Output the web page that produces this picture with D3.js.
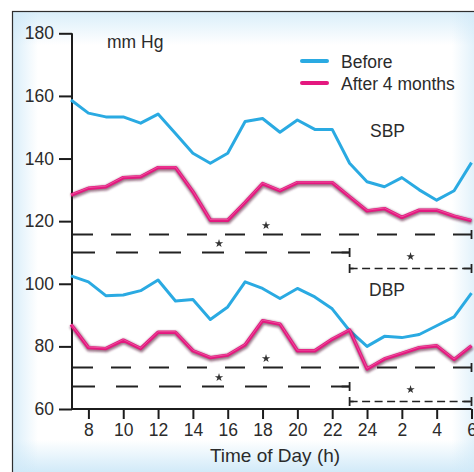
<!DOCTYPE html>
<html>
<head>
<meta charset="utf-8">
<script src="https://cdn.jsdelivr.net/npm/d3@7"></script>
<style>
  html, body { margin: 0; padding: 0; background: #fff; overflow: hidden; }
  svg { display: block; }
  text { font-family: "Liberation Sans", Arial, Helvetica, sans-serif; fill: #2b2b2b; }
</style>
</head>
<body>
<svg id="chart" width="474" height="472"></svg>
<script>
// Hours of the day, 7 h through 6 h the next morning (written as 7..30)
const hours = d3.range(7, 31);

// Systolic blood pressure (mm Hg)
const sbpBefore = [158.7, 154.5, 153.3, 153.3, 151.3, 154.2, 148.0, 141.7, 138.5, 141.7, 151.8, 152.8,
                   148.4, 152.3, 149.3, 149.3, 138.5, 132.6, 131.0, 133.9, 130.0, 126.7, 129.7, 138.7];
const sbpAfter  = [128.3, 130.5, 131.0, 133.9, 134.2, 137.1, 137.1, 129.4, 120.3, 120.3, 126.0, 132.0,
                   129.7, 132.3, 132.3, 132.3, 127.8, 123.3, 124.0, 121.2, 123.5, 123.5, 121.6, 120.2];

// Diastolic blood pressure (mm Hg)
const dbpBefore = [102.5, 100.6, 96.2, 96.4, 97.8, 101.2, 94.5, 95.0, 88.6, 92.6, 100.6, 98.5,
                   95.3, 98.5, 95.8, 92.0, 85.0, 80.0, 83.2, 82.8, 83.8, 86.6, 89.4, 97.0];
const dbpAfter  = [87.0, 79.6, 79.3, 82.0, 79.3, 84.5, 84.5, 78.6, 76.4, 77.2, 80.5, 88.2,
                   87.1, 78.6, 78.6, 82.3, 85.2, 72.8, 76.0, 77.8, 79.6, 80.2, 75.8, 80.2];

// Axis ticks
const yTicks = [60, 80, 100, 120, 140, 160, 180];
const xTicks = [8, 10, 12, 14, 16, 18, 20, 22, 24, 26, 28, 30];
const xTickLabels = ["8", "10", "12", "14", "16", "18", "20", "22", "24", "2", "4", "6"];

// Significant-difference bars: level (mm Hg), hour span, dash style, star hour
const sigLevels = [116, 110, 105, 73.5, 67.3, 62.6];
const sigStart  = [7, 7, 23, 7, 7, 23];
const sigEnd    = [30, 23, 30, 30, 23, 30];
const sigStyle  = ["long", "mid", "short", "long", "mid", "short"];
const sigStar   = [18.2, 15.5, 26.5, 18.2, 15.5, 26.5];

const seriesNames = ["Before", "After 4 months"];
const colors = { before: "#2aaae2", after: "#e4187f" };

const svg = d3.select("#chart");
const defs = svg.append("defs");

// ---- panel background: white with a soft blue glow along the edges
function edgeGrad(id, x1, y1, x2, y2, op) {
  const g = defs.append("linearGradient").attr("id", id)
    .attr("x1", x1).attr("y1", y1).attr("x2", x2).attr("y2", y2);
  g.append("stop").attr("offset", "0%").attr("stop-color", "#cfe9f8").attr("stop-opacity", op);
  g.append("stop").attr("offset", "100%").attr("stop-color", "#cfe9f8").attr("stop-opacity", 0);
}
edgeGrad("gTop", 0, 0, 0, 1, 0.8);
edgeGrad("gBot", 0, 1, 0, 0, 0.95);
edgeGrad("gLeft", 0, 0, 1, 0, 0.8);
edgeGrad("gRight", 1, 0, 0, 0, 0.6);

const px0 = 12, py0 = 11, px1 = 486, py1 = 484;
svg.append("rect").attr("x", px0).attr("y", py0).attr("width", px1 - px0).attr("height", py1 - py0).attr("fill", "#fff");
svg.append("rect").attr("x", px0).attr("y", py0).attr("width", px1 - px0).attr("height", 34).attr("fill", "url(#gTop)");
svg.append("rect").attr("x", px0).attr("y", 440).attr("width", px1 - px0).attr("height", 32).attr("fill", "url(#gBot)");
svg.append("rect").attr("x", px0).attr("y", py0).attr("width", 26).attr("height", py1 - py0).attr("fill", "url(#gLeft)");
svg.append("rect").attr("x", 452).attr("y", py0).attr("width", 22).attr("height", py1 - py0).attr("fill", "url(#gRight)");
svg.append("rect").attr("x", px0 + 0.5).attr("y", py0 + 0.5).attr("width", px1 - px0).attr("height", py1 - py0)
  .attr("fill", "none").attr("stroke", "#2e2e2e").attr("stroke-width", 1.2);

// ---- scales
const x = d3.scaleLinear().domain([7, 30]).range([71, 471.5]);
const y = d3.scaleLinear().domain([60, 180]).range([409, 33.3]);

// ---- axes
const yAxis = d3.axisLeft(y).tickValues(yTicks).tickSize(13).tickSizeOuter(0).tickPadding(5);
const gy = svg.append("g").attr("transform", `translate(${x(7) + 1},0)`).call(yAxis);
gy.selectAll("text").style("font-size", "17.5px");

const xAxis = d3.axisBottom(x).tickValues(xTicks).tickSize(10).tickSizeOuter(0).tickPadding(5)
  .tickFormat((d, i) => xTickLabels[i]);
const gx = svg.append("g").attr("transform", `translate(0,${y(60)})`).call(xAxis);
gx.selectAll("text").style("font-size", "17.5px");

[gx, gy].forEach(g => {
  g.select(".domain").attr("stroke", "#1c1c1c").attr("stroke-width", 2);
  g.selectAll(".tick line").attr("stroke", "#1c1c1c").attr("stroke-width", 2);
  g.selectAll("text").style("fill", "#2b2b2b");
});
gy.select(".domain").attr("d", `M0,${y(180)}V${y(60)}`);
gx.select(".domain").attr("d", `M${x(7) + 1},0H${x(30)}`);

// ---- significance bars
const dashes = { long: "20,18", mid: "22,21", short: "8,4.5" };
const sigG = svg.append("g");
sigLevels.forEach((lv, i) => {
  const yy = Math.round(y(lv)) + 0.5;
  const xa = x(sigStart[i]) + (sigStart[i] === 7 ? 2 : 0);
  const xb = x(sigEnd[i]);
  const w = sigStyle[i] === "short" ? 1.6 : 1.8;
  sigG.append("line").attr("x1", xa).attr("x2", xb).attr("y1", yy).attr("y2", yy)
    .attr("stroke", "#222").attr("stroke-width", w).attr("stroke-dasharray", dashes[sigStyle[i]]);
  // end caps
  const caps = sigStart[i] === 7 ? [xb] : [xa, xb];
  caps.forEach(cx => sigG.append("line").attr("x1", cx).attr("x2", cx)
    .attr("y1", yy - 4.5).attr("y2", yy + 4.5).attr("stroke", "#222").attr("stroke-width", 1.8));
  if (sigStyle[i] !== "long") {
    // solid run into the right cap for the capped segments
    sigG.append("line").attr("x1", xb - 8).attr("x2", xb).attr("y1", yy).attr("y2", yy)
      .attr("stroke", "#222").attr("stroke-width", w);
  }
  if (sigStyle[i] === "short") {
    sigG.append("line").attr("x1", xa).attr("x2", xa + 4).attr("y1", yy).attr("y2", yy)
      .attr("stroke", "#222").attr("stroke-width", w);
  }
  const off = sigStyle[i] === "short" ? 12 : 9;
  sigG.append("path").attr("d", d3.symbol(d3.symbolStar, 22)())
    .attr("transform", `translate(${x(sigStar[i])},${yy - off})`).attr("fill", "#333");
});

// ---- series lines
const line = d3.line().x((d, i) => x(hours[i])).y(d => y(d));

const shadow = defs.append("filter").attr("id", "soft").attr("x", "-5%").attr("y", "-20%")
  .attr("width", "110%").attr("height", "140%");
shadow.append("feGaussianBlur").attr("stdDeviation", 0.8);

function drawBefore(vals) {
  svg.append("path").datum(vals).attr("d", line).attr("fill", "none")
    .attr("stroke", colors.before).attr("stroke-width", 3)
    .attr("stroke-linejoin", "round").attr("stroke-linecap", "butt");
}
function drawAfter(vals) {
  svg.append("path").datum(vals).attr("d", line).attr("fill", "none")
    .attr("stroke", "#5c1f3e").attr("stroke-opacity", 0.6).attr("stroke-width", 5.2)
    .attr("stroke-linejoin", "round").attr("transform", "translate(0.5,1.2)").attr("filter", "url(#soft)");
  svg.append("path").datum(vals).attr("d", line).attr("fill", "none")
    .attr("stroke", colors.after).attr("stroke-width", 3.4)
    .attr("stroke-linejoin", "round");
  svg.append("path").datum(vals).attr("d", line).attr("fill", "none")
    .attr("stroke", "#f57ab5").attr("stroke-width", 0.9).attr("stroke-opacity", 0.6)
    .attr("stroke-linejoin", "round").attr("transform", "translate(0,-0.6)");
}
drawBefore(sbpBefore);
drawAfter(sbpAfter);
drawBefore(dbpBefore);
drawAfter(dbpAfter);

// ---- labels
svg.append("text").attr("x", 107).attr("y", 48).style("font-size", "17.5px").text("mm Hg");
svg.append("text").attr("x", 370).attr("y", 137).style("font-size", "17.5px").text("SBP");
svg.append("text").attr("x", 369).attr("y", 296).style("font-size", "17.5px").text("DBP");
svg.append("text").attr("x", 275).attr("y", 462).attr("text-anchor", "middle")
  .style("font-size", "19px").text("Time of Day (h)");

// ---- legend
const legY = [61, 83];
const legColors = [colors.before, colors.after];
seriesNames.forEach((name, i) => {
  svg.append("line").attr("x1", 302).attr("x2", 327).attr("y1", legY[i]).attr("y2", legY[i])
    .attr("stroke", legColors[i]).attr("stroke-width", 4).attr("stroke-linecap", "round");
  svg.append("text").attr("x", 341).attr("y", legY[i] + 7).style("font-size", "17.5px").text(name);
});
</script>
</body>
</html>
